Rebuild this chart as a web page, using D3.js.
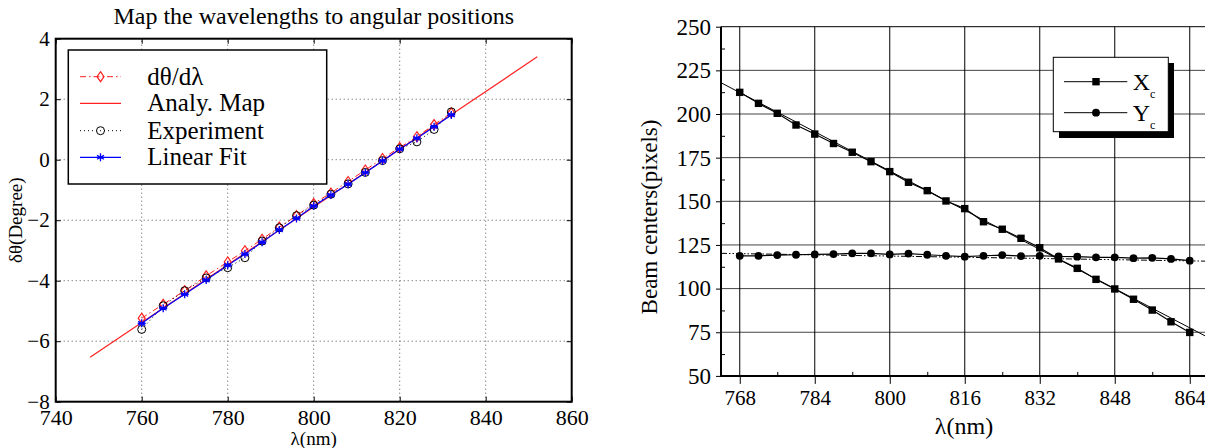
<!DOCTYPE html>
<html><head><meta charset="utf-8">
<script src="https://cdn.jsdelivr.net/npm/d3@7"></script>
<style>
body{margin:0;background:#fff;}
svg text{font-family:"Liberation Serif","DejaVu Serif",serif !important;}
</style></head>
<body><svg id="c" width="1205" height="448"></svg>
<script>
// ---------- Left chart data ----------
const lamL = [760,765,770,775,780,784,788,792,796,800,804,808,812,816,820,824,828,832];
const dThetaDLam = [-5.24,-4.78,-4.33,-3.84,-3.38,-3.01,-2.63,-2.23,-1.85,-1.45,-1.10,-0.72,-0.34,0.04,0.40,0.76,1.16,1.55];
const experiment = [-5.61,-4.83,-4.33,-3.91,-3.57,-3.24,-2.69,-2.25,-1.85,-1.50,-1.14,-0.80,-0.42,-0.03,0.36,0.59,1.00,1.58];
const linearFit = [-5.41,-4.91,-4.45,-3.98,-3.49,-3.12,-2.73,-2.32,-1.94,-1.53,-1.17,-0.81,-0.43,-0.04,0.35,0.71,1.09,1.48];
const analyLam = [748, 852];
const analyMap = [-6.53, 3.40];
const xTicksL = [740,760,780,800,820,840,860];
const yTicksL = [-8,-6,-4,-2,0,2,4];
const legendL = ["dθ/dλ","Analy. Map","Experiment","Linear Fit"];

// ---------- Right chart data ----------
const lamR = [768,772,776,780,784,788,792,796,800,804,808,812,816,820,824,828,832,836,840,844,848,852,856,860,864];
const Xc = [212.4,206.1,200.4,193.7,188.5,183.1,178.1,172.7,167.0,160.9,156.1,150.2,145.8,138.3,134.0,128.8,123.4,117.0,111.6,105.3,99.8,93.9,87.7,81.0,74.9];
const Yc = [118.8,118.8,119.2,119.4,119.6,119.8,120.2,120.2,119.6,120.0,119.4,118.8,118.3,118.8,119.2,118.6,118.8,118.4,118.3,117.9,117.9,117.4,117.6,117.0,116.0];
const fitLamR = [764, 868];
const XcFit = [217.9, 71.9];
const YcFit = [120.2, 115.7];
const xTicksR = [768,784,800,816,832,848,864];
const xMinorR = [776,792,808,824,840,856];
const yTicksR = [50,75,100,125,150,175,200,225,250];
const yMinorR = [62.5,87.5,112.5,137.5,162.5,187.5,212.5,237.5];

const svg = d3.select("#c");

// ================= LEFT =================
const xL = d3.scaleLinear().domain([740,860]).range([55.7,571.7]);
const yL = d3.scaleLinear().domain([-8,4]).range([401.7,38.7]);
const L = svg.append("g");

L.append("g").selectAll("line").data(xTicksL.slice(1,-1)).join("line")
  .attr("x1",d=>xL(d)).attr("x2",d=>xL(d)).attr("y1",yL(-8)).attr("y2",yL(4))
  .attr("stroke","#555").attr("stroke-width",1).attr("stroke-dasharray","1,3");
L.append("g").selectAll("line").data(yTicksL.slice(1,-1)).join("line")
  .attr("y1",d=>yL(d)).attr("y2",d=>yL(d)).attr("x1",xL(740)).attr("x2",xL(860))
  .attr("stroke","#555").attr("stroke-width",1).attr("stroke-dasharray","1,3");

function styleAxis(g, fs){ g.select(".domain").remove(); g.selectAll("line").attr("stroke","#000").attr("stroke-width",1);
  g.selectAll("text").attr("font-size",fs||22).attr("fill","#000"); }
L.append("g").attr("transform",`translate(0,${yL(-8)})`)
  .call(d3.axisBottom(xL).tickValues(xTicksL).tickSize(-5).tickPadding(8).tickFormat(d3.format("d"))).call(styleAxis);
L.append("g").attr("transform",`translate(0,${yL(4)})`)
  .call(d3.axisTop(xL).tickValues(xTicksL).tickSize(-5).tickFormat("")).call(styleAxis);
L.append("g").attr("transform",`translate(${xL(740)},0)`)
  .call(d3.axisLeft(yL).tickValues(yTicksL).tickSize(-5).tickPadding(6)).call(g=>styleAxis(g,21));
L.append("g").attr("transform",`translate(${xL(860)},0)`)
  .call(d3.axisRight(yL).tickValues(yTicksL).tickSize(-5).tickFormat("")).call(styleAxis);
L.append("rect").attr("x",xL(740)).attr("y",yL(4)).attr("width",xL(860)-xL(740)).attr("height",yL(-8)-yL(4))
  .attr("fill","none").attr("stroke","#000").attr("stroke-width",2);

const lineL = d3.line().x(d=>xL(d[0])).y(d=>yL(d[1]));
L.append("path").attr("d",lineL(analyLam.map((l,i)=>[l,analyMap[i]])))
  .attr("fill","none").attr("stroke","#ff2020").attr("stroke-width",1.2);
L.append("path").attr("d",lineL(lamL.map((l,i)=>[l,dThetaDLam[i]])))
  .attr("fill","none").attr("stroke","#ff2020").attr("stroke-width",1).attr("stroke-dasharray","6,3,1.5,3");
L.append("path").attr("d",lineL(lamL.map((l,i)=>[l,experiment[i]])))
  .attr("fill","none").attr("stroke","#000").attr("stroke-width",1).attr("stroke-dasharray","1,3");
L.append("path").attr("d",lineL(lamL.map((l,i)=>[l,linearFit[i]])))
  .attr("fill","none").attr("stroke","#0000ff").attr("stroke-width",1.2);

function diamond(g,x,y){ g.append("path").attr("d",`M${x},${y-5}L${x+3.5},${y}L${x},${y+5}L${x-3.5},${y}Z`)
  .attr("fill","none").attr("stroke","#ff2020").attr("stroke-width",1.2); }
function circ(g,x,y){ g.append("circle").attr("cx",x).attr("cy",y).attr("r",4).attr("fill","none").attr("stroke","#000").attr("stroke-width",1); }
function star(g,x,y){ const r=4; const p=[];
  for(let k=0;k<3;k++){const a=Math.PI/2+k*Math.PI/3; p.push(`M${x-r*Math.cos(a)},${y-r*Math.sin(a)}L${x+r*Math.cos(a)},${y+r*Math.sin(a)}`);}
  p.push(`M${x-r},${y}L${x+r},${y}`);
  g.append("path").attr("d",p.join("")).attr("stroke","#0000ff").attr("stroke-width",1.3).attr("fill","none"); }

const mk = L.append("g");
lamL.forEach((l,i)=>diamond(mk,xL(l),yL(dThetaDLam[i])));
lamL.forEach((l,i)=>circ(mk,xL(l),yL(experiment[i])));
lamL.forEach((l,i)=>star(mk,xL(l),yL(linearFit[i])));

svg.append("text").attr("x",(xL(740)+xL(860))/2).attr("y",24).attr("text-anchor","middle")
  .attr("font-size",24).text("Map the wavelengths to angular positions");
svg.append("text").attr("transform",`translate(22,${(yL(-8)+yL(4))/2}) rotate(-90)`).attr("text-anchor","middle")
  .attr("font-size",19).text("δθ(Degree)");
svg.append("text").attr("x",(xL(740)+xL(860))/2).attr("y",445).attr("text-anchor","middle")
  .attr("font-size",19).text("λ(nm)");

const lg = L.append("g");
lg.append("rect").attr("x",68.3).attr("y",50).attr("width",258.4).attr("height",134)
  .attr("fill","#fff").attr("stroke","#000").attr("stroke-width",1.5);
const rowsY = [76.7,103.3,130.7,157.3];
lg.append("line").attr("x1",80).attr("x2",121).attr("y1",rowsY[0]).attr("y2",rowsY[0]).attr("stroke","#ff2020").attr("stroke-dasharray","6,3,1.5,3");
diamond(lg,100.5,rowsY[0]);
lg.append("line").attr("x1",80).attr("x2",121).attr("y1",rowsY[1]).attr("y2",rowsY[1]).attr("stroke","#ff2020").attr("stroke-width",1.2);
lg.append("line").attr("x1",80).attr("x2",121).attr("y1",rowsY[2]).attr("y2",rowsY[2]).attr("stroke","#000").attr("stroke-dasharray","1,3");
circ(lg,100.5,rowsY[2]);
lg.append("line").attr("x1",80).attr("x2",121).attr("y1",rowsY[3]).attr("y2",rowsY[3]).attr("stroke","#0000ff").attr("stroke-width",1.2);
star(lg,100.5,rowsY[3]);
legendL.forEach((t,i)=>lg.append("text").attr("x",147.3).attr("y",rowsY[i]+8).attr("font-size",25).text(t));

// ================= RIGHT =================
const xR = d3.scaleLinear().domain([764,868]).range([721,1208.5]);
const yR = d3.scaleLinear().domain([50,250]).range([375.9,26.7]);
const R = svg.append("g");
const W = 1205;

R.append("g").selectAll("line").data(yTicksR.slice(1)).join("line")
  .attr("x1",xR(764)).attr("x2",W).attr("y1",d=>yR(d)).attr("y2",d=>yR(d))
  .attr("stroke",d=>d===250?"#000":"#444").attr("stroke-width",1);
R.append("g").selectAll("line").data(xTicksR).join("line")
  .attr("x1",d=>xR(d)).attr("x2",d=>xR(d)).attr("y1",yR(50)).attr("y2",yR(250))
  .attr("stroke","#000").attr("stroke-width",1);

R.append("g").attr("transform",`translate(${xR(764)},0)`)
  .call(d3.axisLeft(yR).tickValues(yTicksR).tickSize(5).tickPadding(5)).call(g=>styleAxis(g,23));
R.append("g").attr("transform",`translate(${xR(764)},0)`)
  .call(d3.axisRight(yR).tickValues(yMinorR).tickSize(4).tickFormat("")).call(styleAxis);
R.append("g").attr("transform",`translate(0,${yR(50)})`)
  .call(d3.axisBottom(xR).tickValues(xTicksR).tickSize(8).tickPadding(6).tickFormat(d3.format("d"))).call(g=>styleAxis(g,21));
R.append("g").attr("transform",`translate(0,${yR(50)})`)
  .call(d3.axisTop(xR).tickValues(xMinorR).tickSize(4).tickFormat("")).call(styleAxis);
R.append("line").attr("x1",xR(764)).attr("x2",xR(764)).attr("y1",yR(50)+1).attr("y2",yR(250))
  .attr("stroke","#000").attr("stroke-width",2);
R.append("line").attr("x1",xR(764)-1).attr("x2",W).attr("y1",yR(50)).attr("y2",yR(50))
  .attr("stroke","#000").attr("stroke-width",2);

const lineR = d3.line().x(d=>xR(d[0])).y(d=>yR(d[1]));
R.append("path").attr("d",lineR(fitLamR.map((l,i)=>[l,XcFit[i]])))
  .attr("fill","none").attr("stroke","#000").attr("stroke-width",1);
R.append("path").attr("d",lineR(fitLamR.map((l,i)=>[l,YcFit[i]])))
  .attr("fill","none").attr("stroke","#000").attr("stroke-width",1).attr("stroke-dasharray","6,2,1.5,2,1.5,2");
R.append("path").attr("d",lineR(lamR.map((l,i)=>[l,Xc[i]])))
  .attr("fill","none").attr("stroke","#000").attr("stroke-width",1.2);
R.append("path").attr("d",lineR(lamR.map((l,i)=>[l,Yc[i]])))
  .attr("fill","none").attr("stroke","#000").attr("stroke-width",1.2);
R.append("g").selectAll("rect").data(lamR).join("rect")
  .attr("x",(d)=>xR(d)-3.7).attr("y",(d,i)=>yR(Xc[i])-3.7).attr("width",7.4).attr("height",7.4).attr("fill","#000");
R.append("g").selectAll("circle").data(lamR).join("circle")
  .attr("cx",d=>xR(d)).attr("cy",(d,i)=>yR(Yc[i])).attr("r",3.9).attr("fill","#000");

svg.append("text").attr("transform",`translate(657,217) rotate(-90)`).attr("text-anchor","middle")
  .attr("font-size",23).text("Beam centers(pixels)");
svg.append("text").attr("x",964).attr("y",434).attr("text-anchor","middle")
  .attr("font-size",24).text("λ(nm)");

const lr = R.append("g");
lr.append("rect").attr("x",1059).attr("y",63).attr("width",115).attr("height",75).attr("fill","#000");
lr.append("rect").attr("x",1053.3).attr("y",57.3).attr("width",115).attr("height",74.4)
  .attr("fill","#fff").attr("stroke","#000").attr("stroke-width",1);
const rY = [81.7,112.7];
rY.forEach(y=>lr.append("line").attr("x1",1064).attr("x2",1127.3).attr("y1",y).attr("y2",y).attr("stroke","#000").attr("stroke-width",1));
lr.append("rect").attr("x",1096-3.7).attr("y",rY[0]-3.7).attr("width",7.4).attr("height",7.4).attr("fill","#000");
lr.append("circle").attr("cx",1096).attr("cy",rY[1]).attr("r",3.9).attr("fill","#000");
["X","Y"].forEach((t,i)=>{
  lr.append("text").attr("x",1132.7).attr("y",rY[i]+8).attr("font-size",24).text(t);
  lr.append("text").attr("x",1150).attr("y",rY[i]+16).attr("font-size",12).text("c");
});
</script></body></html>
